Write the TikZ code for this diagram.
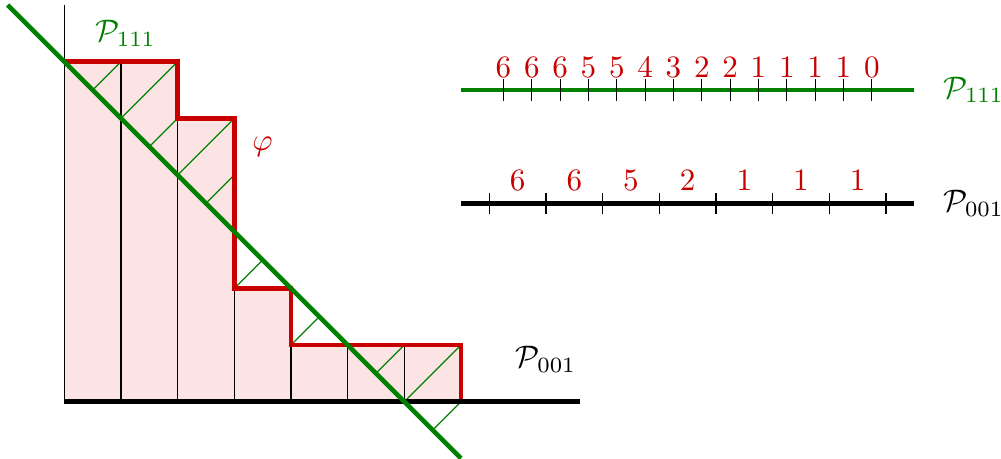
\documentclass[tikz,border=0pt]{standalone}
\usepackage{amsmath,amssymb}
\usepackage{tikz}
\usetikzlibrary{positioning, calc}
\usepackage{xcolor}
\definecolor{stairred}{RGB}{200, 0, 0}
\definecolor{projgreen}{RGB}{0, 128, 0}
\definecolor{fillpink}{RGB}{253, 228, 228}

\begin{document}
\begin{tikzpicture}[
      x=0.64cm, y=0.64cm,
      heavy/.style={line width=1.45pt},
      gridline/.style={black, line width=0.4pt},
      hatch/.style={projgreen, line width=0.4pt},
      ticklin/.style={black, line width=0.4pt},
      numlabel/.style={text=stairred, anchor=south, inner sep=0pt},
    ]
    \useasboundingbox (-1.135,-1.011) rectangle (16.53,7.088);
    % region under the staircase
    \fill[fillpink] (0,0) -- (0,6) -- (2,6) -- (2,5) -- (3,5) -- (3,2) -- (4,2)
      -- (4,1) -- (7,1) -- (7,0) -- cycle;
    % columns and axis
    \foreach \i/\h in {1/6,2/6,3/5,4/2,5/1,6/1}
      \draw[gridline] (\i,0) -- (\i,\h);
    \draw[gridline] (0,0) -- (0,7);
    % hatching: lattice points projected onto x+y=6
    \foreach \a/\b in {1/6,2/6,2/5,3/5,3/4,3/2,4/1,6/1,7/1,7/0}
      \draw[hatch] (\a,\b) -- ({(\a-\b+6)/2},{(\b-\a+6)/2});
    % staircase
    \draw[stairred, heavy] (0,6) -- (2,6) -- (2,5) -- (3,5) -- (3,2) -- (4,2)
      -- (4,1) -- (7,1) -- (7,0);
    \coordinate (o) at (0,0);
    \coordinate (xend) at (9.1,0);
    \coordinate (dstart) at (-1,7);
    \coordinate (dend) at (7,-1);
    \draw[black, heavy] (o) -- (xend);
    \draw[projgreen, heavy] (dstart) -- (dend);
    % labels
    \node[text=projgreen] (p111left) at (1.08,6.5) {$\mathcal{P}_{111}$};
    \node[text=stairred] (phi) at (3.5,4.5) {$\varphi$};
    \node (p001left) at (8.5,0.75) {$\mathcal{P}_{001}$};
    % projection onto 111
    \coordinate (ga) at (7,5.5);
    \coordinate (gb) at (15,5.5);
    \draw[projgreen, heavy] (ga) -- (gb);
    \foreach \y [count=\k from 0] in {6,6,6,5,5,4,3,2,2,1,1,1,1,0} {
      \draw[ticklin] (7.75+0.5*\k,5.31) -- (7.75+0.5*\k,5.69);
      \node[numlabel] (g\k) at (7.75+0.5*\k,5.71) {$\y$};
    }
    \node[anchor=west, text=projgreen] (p111right) at (15.32,5.5) {$\mathcal{P}_{111}$};
    % projection onto 001
    \coordinate (ba) at (7,3.5);
    \coordinate (bb) at (15,3.5);
    \draw[black, heavy] (ba) -- (bb);
    \foreach \i in {0,...,7}
      \draw[ticklin] (7.5+\i,3.31) -- (7.5+\i,3.69);
    \foreach \y [count=\k from 0] in {6,6,5,2,1,1,1}
      \node[numlabel] (b\k) at (8+\k,3.71) {$\y$};
    \node[anchor=west] (p001right) at (15.32,3.5) {$\mathcal{P}_{001}$};
  \end{tikzpicture}
\end{document}
